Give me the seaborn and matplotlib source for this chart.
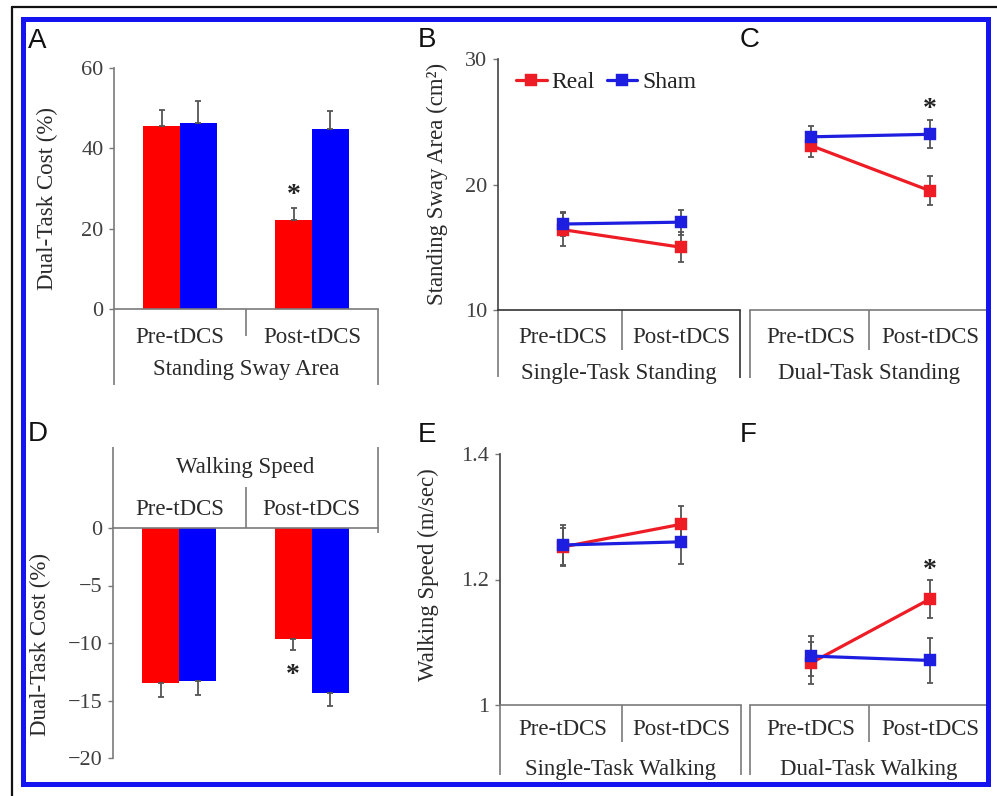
import numpy as np
import pandas as pd
import matplotlib
matplotlib.use("Agg")
import matplotlib.pyplot as plt
import matplotlib.transforms as mtransforms
from matplotlib.patches import Rectangle
from matplotlib.lines import Line2D
import seaborn as sns

# ---------------- data ----------------
PHASES = ["Pre-tDCS", "Post-tDCS"]
GROUPS = ["Real", "Sham"]

# A: dual-task cost of standing sway area (%)
A_real = [45.6, 22.2]
A_real_err = [4.0, 3.0]
A_sham = [46.3, 44.8]
A_sham_err = [5.4, 4.5]

# D: dual-task cost of walking speed (%)
D_real = [-13.5, -9.65]
D_real_err = [1.2, 0.95]
D_sham = [-13.3, -14.35]
D_sham_err = [1.25, 1.15]

# B / C: standing sway area (cm2)
B_real = [16.4, 15.0]
B_real_err = [1.3, 1.2]
B_sham = [16.85, 17.0]
B_sham_err = [0.95, 1.0]
C_real = [23.1, 19.5]
C_real_err = [0.9, 1.15]
C_sham = [23.8, 24.0]
C_sham_err = [0.9, 1.1]

# E / F: walking speed (m/sec)
E_real = [1.252, 1.288]
E_real_err = [0.030, 0.029]
E_sham = [1.255, 1.260]
E_sham_err = [0.032, 0.035]
F_real = [1.067, 1.169]
F_real_err = [0.033, 0.030]
F_sham = [1.078, 1.071]
F_sham_err = [0.032, 0.036]

BAR_COLORS = {"Real": "#ff0000", "Sham": "#0000ff"}
LINE_COLORS = {"Real": "#ee1c24", "Sham": "#1e1ee0"}
ERR_COLOR = "#555555"
AX_COLOR = "#7a7a7a"
TXT_COLOR = "#2a2a2a"

# ---------------- style ----------------
sns.set_style("white")
plt.rcParams["font.family"] = ["Liberation Serif", "DejaVu Serif"]

W, H = 997, 796
fig = plt.figure(figsize=(W / 100, H / 100), dpi=100)
fig.patch.set_facecolor("white")


def add_ax(l, t, r, b):
    ax = fig.add_axes([l / W, 1 - b / H, (r - l) / W, (b - t) / H])
    ax.set_facecolor("none")
    return ax, (l, t, r, b)


def yfrac(box, ypx):
    l, t, r, b = box
    return (b - ypx) / (b - t)


def vline(ax, box, x, y0, y1, color=AX_COLOR, lw=1.2):
    tr = mtransforms.blended_transform_factory(ax.transData, ax.transAxes)
    ax.plot([x, x], [yfrac(box, y0), yfrac(box, y1)], transform=tr,
            clip_on=False, color=color, lw=lw, solid_capstyle="butt")


def make_df(real, sham):
    return pd.DataFrame({
        "phase": PHASES * 2,
        "group": [GROUPS[0]] * 2 + [GROUPS[1]] * 2,
        "value": list(real) + list(sham),
    })


def style_y(ax, ticks, labels=None):
    ax.set_yticks(ticks)
    if labels is not None:
        ax.set_yticklabels(labels)
    ax.tick_params(axis="y", left=True, length=3.6, width=1.0, color=AX_COLOR,
                   labelsize=16, labelcolor="#404040", pad=4)


def style_x(ax, pad_pt, top=False):
    ax.set_xticks([0, 1])
    ax.set_xticklabels(PHASES)
    if top:
        ax.xaxis.tick_top()
    ax.tick_params(axis="x", length=0, pad=pad_pt, labelsize=16.5,
                   labelcolor=TXT_COLOR)
    for lbl in ax.get_xticklabels():
        lbl.set_verticalalignment("baseline")


def group_label(ax, box, text, ybase, top=False):
    if top:
        ax.xaxis.set_label_position("top")
    ax.set_xlabel(text, fontsize=16.5, color=TXT_COLOR)
    ax.xaxis.set_label_coords(0.5, yfrac(box, ybase))
    ax.xaxis.label.set_verticalalignment("baseline")


def set_ylab(ax, box, text, xpx, ypx):
    l, t, r, b = box
    ax.set_ylabel(text, fontsize=16.5, color=TXT_COLOR)
    ax.yaxis.set_label_coords((xpx - l) / (r - l), yfrac(box, ypx))
    ax.yaxis.label.set_verticalalignment("center")


def star(ax, x, y, off_pt):
    ax.annotate("*", xy=(x, y), xytext=(0, off_pt), textcoords="offset points",
                ha="center", va="baseline", fontsize=20, fontweight="bold",
                color="#222222")


# ---------------- bar panels ----------------
def bar_panel(box, ax, real, sham, rerr, serr, down=False):
    df = make_df(real, sham)
    sns.barplot(data=df, x="phase", y="value", hue="group", order=PHASES,
                hue_order=GROUPS, palette=BAR_COLORS, width=0.56, gap=0,
                errorbar=None, saturation=1, legend=False, linewidth=0, ax=ax)
    xs = np.arange(len(PHASES))
    for vals, errs, off in ((real, rerr, -0.14), (sham, serr, 0.14)):
        errs = np.asarray(errs)
        z = np.zeros_like(errs)
        yerr = [errs, z] if down else [z, errs]
        ax.errorbar(xs + off, vals, yerr=yerr, fmt="none", ecolor=ERR_COLOR,
                    elinewidth=1.3, capsize=2.5, capthick=1.3, zorder=1.5)
    ax.set_xlim(-0.5, 1.5)
    for s in ("top", "right", "bottom", "left"):
        ax.spines[s].set_visible(False)
    ax.spines["left"].set_visible(True)
    ax.spines["left"].set_color(AX_COLOR)
    ax.spines["left"].set_linewidth(1.2)


# Panel A
axA, boxA = add_ax(114, 68, 378, 309)
bar_panel(boxA, axA, A_real, A_sham, A_real_err, A_sham_err)
axA.set_ylim(0, 60)
style_y(axA, [0, 20, 40, 60])
axA.spines["bottom"].set_visible(True)
axA.spines["bottom"].set_color(AX_COLOR)
axA.spines["bottom"].set_linewidth(1.2)
style_x(axA, (343 - 309) * 0.72)
group_label(axA, boxA, "Standing Sway Area", 375)
set_ylab(axA, boxA, "Dual-Task Cost (%)", 47, 198)
vline(axA, boxA, -0.5, 309, 385)
vline(axA, boxA, 0.5, 309, 336)
vline(axA, boxA, 1.5, 309, 385)
star(axA, 1 - 0.14, A_real[1] + A_real_err[1], 4.5)

# Panel D
axD, boxD = add_ax(113, 528, 378, 758)
bar_panel(boxD, axD, D_real, D_sham, D_real_err, D_sham_err, down=True)
axD.set_ylim(-20, 0)
style_y(axD, [0, -5, -10, -15, -20])
axD.spines["top"].set_visible(True)
axD.spines["top"].set_color(AX_COLOR)
axD.spines["top"].set_linewidth(1.2)
style_x(axD, (528 - 515) * 0.72, top=True)
group_label(axD, boxD, "Walking Speed", 473, top=True)
set_ylab(axD, boxD, "Dual-Task Cost (%)", 40, 644)
vline(axD, boxD, -0.5, 528, 447)
vline(axD, boxD, 0.5, 528, 487)
vline(axD, boxD, 1.5, 533, 447)
star(axD, 1 - 0.14, D_real[1] - D_real_err[1], -23)


# ---------------- line panels ----------------
def line_panel(box, ax, real, sham, rerr, serr, xlim, legend=False):
    df = make_df(real, sham)
    sns.pointplot(data=df, x="phase", y="value", hue="group", order=PHASES,
                  hue_order=GROUPS, palette=LINE_COLORS, markers="s",
                  linestyles="-", errorbar=None, dodge=False, legend=legend,
                  ax=ax, markersize=7, linewidth=2.3)
    xs = np.arange(len(PHASES))
    for vals, errs in ((real, rerr), (sham, serr)):
        ax.errorbar(xs, vals, yerr=errs, fmt="none", ecolor=ERR_COLOR,
                    elinewidth=1.3, capsize=2.2, capthick=1.3, zorder=1.5)
    ax.set_xlim(*xlim)
    for s in ("top", "right", "left"):
        ax.spines[s].set_visible(False)
    ax.spines["bottom"].set_color(AX_COLOR)
    ax.spines["bottom"].set_linewidth(1.2)


# Panel B
axB, boxB = add_ax(498, 59, 740, 310)
line_panel(boxB, axB, B_real, B_sham, B_real_err, B_sham_err, (-0.551, 1.5), legend=True)
axB.set_ylim(10, 30)
axB.spines["left"].set_visible(True)
axB.spines["left"].set_color("#444444")
axB.spines["left"].set_linewidth(1.2)
axB.spines["bottom"].set_color("#333333")
style_y(axB, [10, 20, 30])
style_x(axB, (343 - 310) * 0.72)
group_label(axB, boxB, "Single-Task Standing", 379)
set_ylab(axB, boxB, "Standing Sway Area (cm²)", 437, 184)
vline(axB, boxB, -0.551, 310, 377)
vline(axB, boxB, 0.5, 310, 350)
vline(axB, boxB, 1.5, 310, 378, color="#333333")
leg = axB.get_legend()
handles = leg.legend_handles
labels = [t.get_text() for t in leg.get_texts()]
axB.legend(handles, labels, loc="center left",
           bbox_to_anchor=((516 - 498) / 242, yfrac(boxB, 82)),
           frameon=False, ncol=2, handlelength=1.3, handletextpad=0.2,
           columnspacing=0.5, borderpad=0, borderaxespad=0, fontsize=17,
           labelcolor="#222222")

# Panel C
axC, boxC = add_ax(750, 59, 987, 310)
line_panel(boxC, axC, C_real, C_sham, C_real_err, C_sham_err, (-0.513, 1.479))
axC.set_ylim(10, 30)
axC.tick_params(axis="y", left=False, labelleft=False)
axC.set_ylabel("")
style_x(axC, (343 - 310) * 0.72)
group_label(axC, boxC, "Dual-Task Standing", 379)
vline(axC, boxC, -0.513, 310, 378)
vline(axC, boxC, 0.487, 310, 350)
vline(axC, boxC, 1.479, 310, 362)
star(axC, 1, C_sham[1] + C_sham_err[1], 3.5)

# Panel E
axE, boxE = add_ax(500, 454, 741, 705)
line_panel(boxE, axE, E_real, E_sham, E_real_err, E_sham_err, (-0.534, 1.508))
axE.set_ylim(1.0, 1.4)
axE.spines["left"].set_visible(True)
axE.spines["left"].set_color("#444444")
axE.spines["left"].set_linewidth(1.2)
style_y(axE, [1.0, 1.2, 1.4], ["1", "1.2", "1.4"])
style_x(axE, (735 - 705) * 0.72)
group_label(axE, boxE, "Single-Task Walking", 775)
set_ylab(axE, boxE, "Walking Speed (m/sec)", 428, 575)
vline(axE, boxE, -0.534, 705, 775)
vline(axE, boxE, 0.5, 705, 742)
vline(axE, boxE, 1.508, 705, 775)

# Panel F
axF, boxF = add_ax(750, 454, 987, 705)
line_panel(boxF, axF, F_real, F_sham, F_real_err, F_sham_err, (-0.513, 1.479))
axF.set_ylim(1.0, 1.4)
axF.tick_params(axis="y", left=False, labelleft=False)
axF.set_ylabel("")
style_x(axF, (735 - 705) * 0.72)
group_label(axF, boxF, "Dual-Task Walking", 775)
vline(axF, boxF, -0.513, 705, 775)
vline(axF, boxF, 0.487, 705, 742)
vline(axF, boxF, 1.479, 705, 775)
star(axF, 1, F_real[1] + F_real_err[1], 2.0)

# ---------------- panel letters ----------------
for letter, (xp, yp) in {"A": (28, 28), "B": (418, 27), "C": (740, 27),
                         "D": (28, 421), "E": (418, 422), "F": (740, 422)}.items():
    fig.text(xp / W, 1 - yp / H, letter, ha="left", va="top", fontsize=20,
             family=["Liberation Sans", "DejaVu Sans"], color="#111111")

# ---------------- frame ----------------
fig.add_artist(Line2D([12 / W, 1.0], [1 - 7 / H, 1 - 7 / H], transform=fig.transFigure,
                      color="#111111", lw=1.6))
fig.add_artist(Line2D([12 / W, 12 / W], [1 - 7 / H, 0.0], transform=fig.transFigure,
                      color="#111111", lw=1.6))
fig.add_artist(Rectangle((22.5 / W, 1 - 783.5 / H), (988 - 22.5) / W, (783.5 - 18.5) / H,
                         transform=fig.transFigure, fill=False, ec="#1414f0", lw=3.6))

fig.savefig("out.png", dpi=100, facecolor="white")
